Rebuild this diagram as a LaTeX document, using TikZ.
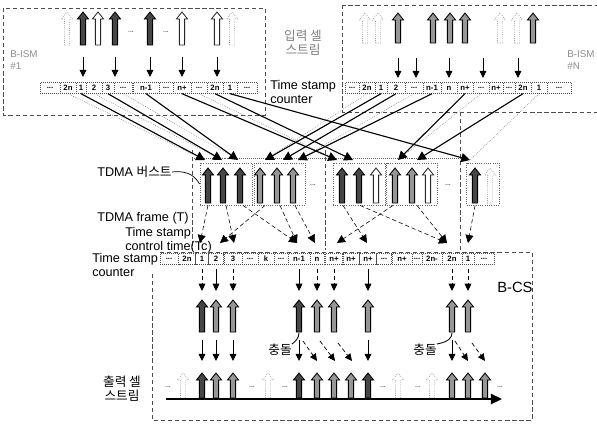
\documentclass[tikz,border=0pt]{standalone}
\usepackage{fontspec}
\setmainfont{Liberation Sans}
\newfontfamily\krfont{Noto Sans CJK KR}
\usetikzlibrary{arrows.meta, positioning}
\definecolor{cellgray}{RGB}{150,150,150}
\definecolor{celldark}{RGB}{70,70,70}
\tikzstyle{darkcell} = [draw=black, fill=celldark, line width=0.6pt]
\tikzstyle{hatchcell} = [draw=black, fill=cellgray, line width=0.6pt]
\tikzstyle{opencell} = [draw=black!85, fill=white, line width=0.6pt]
\tikzstyle{faintcell} = [draw=black!40, densely dotted, fill=white, line width=0.5pt]
\tikzstyle{tsc} = [draw=black!70, densely dotted, inner sep=0pt, minimum height=0.27cm, font=\fontsize{5.5}{6}\selectfont\bfseries]
\tikzstyle{burst} = [draw=black!60, densely dotted, line width=0.6pt, minimum height=1.05cm, inner sep=0pt]
\tikzstyle{drop} = [-{Triangle[length=1.8mm,width=1.7mm]}, line width=0.5pt]
\tikzstyle{ddrop} = [drop, densely dashed]
\tikzstyle{link} = [-{Triangle[length=2.2mm,width=2.3mm]}, line width=0.8pt]
\tikzstyle{dlink} = [-{Triangle[length=2mm,width=2mm]}, densely dashed, line width=0.4pt]
\tikzstyle{ghost} = [densely dotted, line width=0.4pt, black!60]
\tikzstyle{tdmaframe} = [densely dashed, line width=0.7pt, black!70]
\tikzstyle{lbl} = [font=\fontsize{9}{10}\selectfont, inner sep=0pt]
\tikzstyle{krlbl} = [font=\fontsize{9}{10}\selectfont\krfont, inner sep=0pt]
\tikzstyle{dots} = [font=\fontsize{5}{6}\selectfont, inner sep=0pt]
\tikzset{pics/upcell/.style args={#1/#2}{code={
  \draw[#1] (-2.6,0) -- (-2.6,-#2+7) -- (-5.6,-#2+7) -- (0,-#2)
    -- (5.6,-#2+7) -- (2.6,-#2+7) -- (2.6,0) -- cycle;}}}

\begin{document}
\begin{tikzpicture}[x=0.025cm, y=-0.025cm]
\useasboundingbox (0,0) rectangle (597,424);

% input cell streams
\draw[tdmaframe, line width=0.5pt] (3,8) rectangle (265,115);
\draw[tdmaframe, line width=0.5pt] (342,5) rectangle (620,112);
\foreach \x/\s in {67/faintcell,83/darkcell,98/opencell,115/darkcell,150/darkcell,182/opencell,217/opencell,232/faintcell}
  {\edef\tmp{\noexpand\pic at (\x,45) {upcell=\s/33};}\tmp}
\foreach \x/\s in {365/faintcell,378/faintcell,398/hatchcell,433/hatchcell,450/hatchcell,465/hatchcell,500/faintcell,517/faintcell,533/hatchcell}
  {\edef\tmp{\noexpand\pic at (\x,43) {upcell=\s/30};}\tmp}
\foreach \x in {131,166} \node[dots] at (\x,32) {...};
\foreach \x in {83,115,150,182,217} \draw[drop] (\x,57) -- (\x,77);
\foreach \x in {398,416,449,483,518} \draw[drop] (\x,58) -- (\x,78);

\foreach \x/\w/\t/\n in {50/20/{...}/l1, 68/16/2n/l2, 81/10/1/l3, 94/16/2/l4, 108/12/3/l5, 123/18/{...}/l6, 146/26/n-1/l7, 166/14/{...}/l8, 182/18/n+/l9, 199/16/{...}/l10, 215/16/2n/l11, 230/14/1/l12, 247/20/{...}/l13}
  \node[tsc, minimum width=\w*0.025cm] (\n) at (\x,88) {\t};
\foreach \x/\w/\t/\n in {352/14/{...}/r1, 367/16/2n/r2, 381/12/1/r3, 396/18/2/r4, 414/18/{...}/r5, 432/18/n-1/r6, 449/16/n/r7, 465/16/n+/r8, 481/16/{...}/r9, 496/14/n+/r10, 509/12/{...}/r11, 523/16/2n/r12, 539/16/1/r13, 559/24/{...}/r14}
  \node[tsc, minimum width=\w*0.025cm] (\n) at (\x,88) {\t};

\node[lbl, align=left, anchor=west] (topcnt) at (270,92) {Time stamp\\counter};
\node[lbl, align=left, anchor=west, text=black!45, font=\fontsize{7}{8}\selectfont] (ism1) at (10,60) {B-ISM\\\#1};
\node[lbl, align=left, anchor=west, text=black!45, font=\fontsize{7}{8}\selectfont] (ismn) at (567,60) {B-ISM\\\#N};
\node[krlbl, text=black!50, align=center] (instream) at (303,43) {입력 셀\\스트림};

% TDMA frames and bursts
\draw[tdmaframe] (192,150) -- (192,250);
\draw[tdmaframe] (325,150) -- (325,250);
\draw[tdmaframe] (460,112) -- (460,250);
\draw[ghost] (192,158) -- (460,158);
\node[burst, minimum width=1.3cm] (bu1) at (226,184) {};
\node[burst, minimum width=1.275cm] (bu2) at (280,184) {};
\node[burst, minimum width=1.3cm] (bu3) at (359,184) {};
\node[burst, minimum width=1.275cm] (bu4) at (412,184) {};
\node[burst, minimum width=0.825cm] (bu5) at (483,184) {};
\foreach \x/\s in {208/darkcell,223/darkcell,240/darkcell,260/hatchcell,277/hatchcell,293/hatchcell,342/darkcell,359/darkcell,376/opencell,395/hatchcell,412/hatchcell,428/opencell,475/darkcell,490/faintcell}
  {\edef\tmp{\noexpand\pic at (\x,203) {upcell=\s/35};}\tmp}
\foreach \x in {313,448} \node[dots] at (\x,185) {...};

\coordinate (h1) at (205,160);
\coordinate (h2) at (222,160);
\coordinate (h3) at (238,160);
\coordinate (h4) at (265,160);
\coordinate (h5) at (283,160);
\coordinate (h6) at (298,160);
\coordinate (h7) at (337,160);
\coordinate (h8) at (353,160);
\coordinate (h9) at (398,160);
\coordinate (h10) at (417,160);
\coordinate (h11) at (470,160);

\draw[ghost] (l2.south) -- (h1);
\draw[ghost] (l4.south) -- (h2);
\draw[ghost] (l6.south) -- (h3);
\draw[ghost] (l10.south) -- (h7);
\draw[ghost] (r2.south) -- (h4);
\draw[ghost] (r5.south) -- (h6);
\draw[ghost] (r9.south) -- (h9);
\draw[ghost] (r13.south) -- (h11);
\draw[link] (l3.south) -- (h1);
\draw[link] (l5.south) -- (h2);
\draw[link] (l7.south) -- (h3);
\draw[link] (l9.south) -- (h7);
\draw[link] (l11.south) -- (h8);
\draw[link] (l12.south) -- (h11);
\draw[link] (r3.south) -- (h4);
\draw[link] (r4.south) -- (h5);
\draw[link] (r6.south) -- (h6);
\draw[link] (r8.south) -- (h9);
\draw[link] (r12.south) -- (h10);

\node[lbl, anchor=west] (burstlbl) at (97,172) {TDMA {\krfont 버스트}};
\draw[line width=0.5pt] (burstlbl.east) .. controls (190,170) and (196,178) .. (bu1.west);
\node[lbl, anchor=west] (framelbl) at (97,218) {TDMA frame (T)};
\node[lbl, align=left, anchor=west] (tclbl) at (125,240) {Time stamp\\control time(Tc)};
\node[lbl, align=left, anchor=west] (cntlbl) at (92,265) {Time stamp\\counter};

\coordinate (t1) at (200,243);
\coordinate (t2) at (220,243);
\coordinate (t3) at (234,243);
\coordinate (t4) at (297,243);
\coordinate (t5) at (315,243);
\coordinate (t6) at (337,243);
\coordinate (t7) at (367,243);
\coordinate (t8) at (447,243);
\coordinate (t9) at (468,243);
\draw[dlink] (208,0 |- bu1.south) -- (t1);
\draw[dlink] (226,0 |- bu1.south) -- (t3);
\draw[dlink] (243,0 |- bu1.south) -- (t4);
\draw[dlink] (265,0 |- bu2.south) -- (t2);
\draw[dlink] (280,0 |- bu2.south) -- (t4);
\draw[dlink] (295,0 |- bu2.south) -- (t5);
\draw[dlink] (343,0 |- bu3.south) -- (t7);
\draw[dlink] (360,0 |- bu3.south) -- (t8);
\draw[dlink] (393,0 |- bu4.south) -- (t6);
\draw[dlink] (417,0 |- bu4.south) -- (t8);
\draw[dlink] (475,0 |- bu5.south) -- (t9);

% B-CS
\draw[tdmaframe, line width=0.5pt] (160,252) -- (532,252) -- (532,420) -- (152,420) -- (152,272);
\node[lbl, font=\fontsize{10.5}{12}\selectfont, anchor=west] (bcs) at (497,287) {B-CS};
\foreach \x/\w/\t/\n in {169/18/{...}/b1, 187/17/2n/b2, 202/13/1/b3, 216/15/2/b4, 233/18/3/b5, 250/16/{...}/b6, 266/16/k/b7, 281/14/{...}/b8, 299/22/n-1/b9, 317/14/n/b10, 334/18/n+/b11, 351/17/n+/b12, 368/17/n+/b13, 384/15/{...}/b14, 402/20/n+/b15, 417/10/{...}/b16, 432/20/2n-/b17, 452/20/2n/b18, 468/12/1/b19, 484/20/{...}/b20}
  \node[tsc, minimum width=\w*0.025cm] (\n) at (\x,259) {\t};
\foreach \n/\s in {b3/ddrop,b4/drop,b5/ddrop,b9/drop,b10/ddrop,b11/ddrop,b13/drop,b18/ddrop,b19/ddrop}
  {\edef\tmp{\noexpand\draw[\s] ([yshift=-3pt]\n.south) -- ++(0,22);}\tmp}
\foreach \x/\s in {202/darkcell,216/hatchcell,233/hatchcell,299/darkcell,317/hatchcell,334/hatchcell,368/hatchcell,452/hatchcell,468/hatchcell}
  {\edef\tmp{\noexpand\pic at (\x,332) {upcell=\s/32};}\tmp}
\foreach \x in {202,216,233,299,368,452} \draw[drop] (\x,340) -- (\x,361);
\draw[ddrop] (303,341) -- (317,361);
\draw[ddrop] (320,341) -- (335,361);
\draw[ddrop] (338,343) -- (352,361);
\draw[ddrop] (455,341) -- (468,361);
\draw[ddrop] (472,343) -- (485,361);

\node[krlbl] (col1) at (280,350) {충돌};
\draw[line width=0.6pt] (col1.north east) .. controls (295,342) and (299,338) .. (299,333);
\node[krlbl] (col2) at (425,350) {충돌};
\draw[line width=0.6pt] (col2.north east) .. controls (448,342) and (452,338) .. (452,333);

% output cell stream
\foreach \x/\s in {183/faintcell,202/darkcell,216/hatchcell,233/hatchcell,268/faintcell,299/darkcell,317/hatchcell,334/hatchcell,351/hatchcell,368/darkcell,398/faintcell,432/faintcell,452/hatchcell,468/hatchcell,485/hatchcell}
  {\edef\tmp{\noexpand\pic at (\x,398) {upcell=\s/25};}\tmp}
\foreach \x in {168,252,285,383,418,500} \node[dots] at (\x,387) {...};
\draw[-{Triangle[length=2.8mm,width=2.6mm]}, line width=1pt] (166,399) -- (502,399);
\node[krlbl, align=center] (outstream) at (122,389) {출력 셀\\스트림};
\end{tikzpicture}
\end{document}
